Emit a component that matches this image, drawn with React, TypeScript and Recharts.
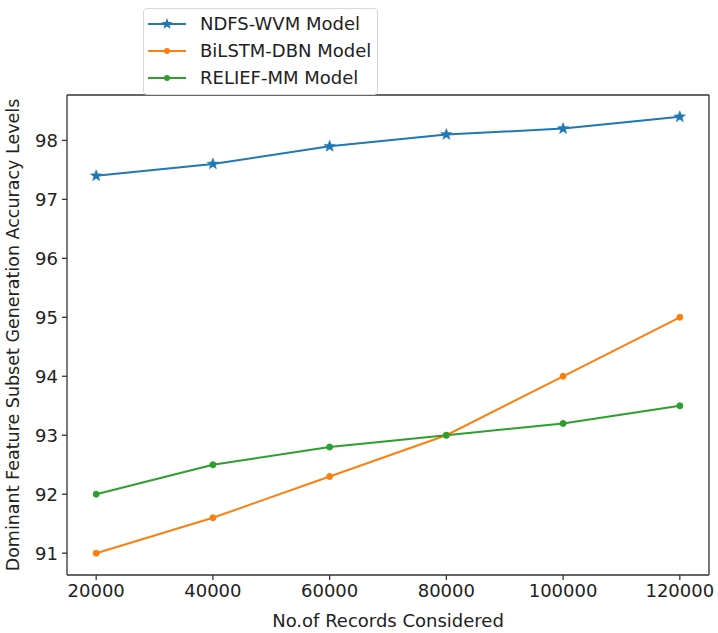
import React from 'react'
import { LineChart, Line, XAxis, YAxis, ReferenceLine } from 'recharts'

const records = [20000, 40000, 60000, 80000, 100000, 120000]
const ndfsWvm = [97.4, 97.6, 97.9, 98.1, 98.2, 98.4]
const bilstmDbn = [91.0, 91.6, 92.3, 93.0, 94.0, 95.0]
const reliefMm = [92.0, 92.5, 92.8, 93.0, 93.2, 93.5]
const yTicks = [91, 92, 93, 94, 95, 96, 97, 98]
const xTicks = [20000, 40000, 60000, 80000, 100000, 120000]

const seriesNames = ['NDFS-WVM Model', 'BiLSTM-DBN Model', 'RELIEF-MM Model']
const seriesKeys = ['ndfs', 'bilstm', 'relief']
const colors = ['#1f77b4', '#ff7f0e', '#2ca02c']

const X_DOMAIN: [number, number] = [15000, 125000]
const Y_DOMAIN: [number, number] = [90.63, 98.77]

const data = records.map((r, i) => ({
  records: r,
  ndfs: ndfsWvm[i],
  bilstm: bilstmDbn[i],
  relief: reliefMm[i],
}))

const FONT = '"DejaVu Sans", sans-serif'
const AXIS = '#333'

function starPath(cx: number, cy: number, r: number) {
  const pts: string[] = []
  for (let i = 0; i < 10; i++) {
    const rad = i % 2 === 0 ? r : r * 0.42
    const a = -Math.PI / 2 + (i * Math.PI) / 5
    pts.push(`${cx + rad * Math.cos(a)},${cy + rad * Math.sin(a)}`)
  }
  return 'M' + pts.join('L') + 'Z'
}

const StarDot = (props: any) => {
  const { cx, cy, key } = props
  if (cx == null || cy == null) return null
  return <path key={key} d={starPath(cx, cy, 6)} fill={colors[0]} stroke={colors[0]} strokeWidth={0.5} />
}

const makeCircle = (color: string) => (props: any) => {
  const { cx, cy, key } = props
  if (cx == null || cy == null) return null
  return <circle key={key} cx={cx} cy={cy} r={3} fill={color} stroke={color} />
}

function LegendBox() {
  return (
    <div
      style={{
        position: 'absolute',
        left: 143,
        top: 8,
        width: 235,
        height: 87,
        background: 'rgba(255,255,255,0.92)',
        border: '1px solid #d8d8d8',
        borderRadius: 4,
        boxSizing: 'border-box',
      }}
    >
      <svg width={235} height={87} style={{ position: 'absolute', left: -1, top: -1, overflow: 'visible' }}>
        {seriesNames.map((name, i) => {
          const y = 16 + i * 27
          return (
            <g key={name}>
              <line x1={5} x2={43} y1={y} y2={y} stroke={colors[i]} strokeWidth={2} />
              {i === 0 ? (
                <path d={starPath(24, y, 6)} fill={colors[i]} />
              ) : (
                <circle cx={24} cy={y} r={3} fill={colors[i]} />
              )}
              <text x={57} y={y} dy="0.36em" fontSize={18} fill="#222" fontFamily={FONT}>
                {name}
              </text>
            </g>
          )
        })}
      </svg>
    </div>
  )
}

export default function App() {
  const tickStyle = { fontSize: 18, fill: '#222', fontFamily: FONT }
  return (
    <div style={{ position: 'absolute', left: 0, top: 0, width: 718, height: 633, background: '#fff' }}>
      <LineChart
        width={718}
        height={633}
        data={data}
        margin={{ top: 95, right: 9, left: 7, bottom: 28 }}
      >
        <XAxis
          dataKey="records"
          type="number"
          domain={X_DOMAIN}
          ticks={xTicks}
          allowDataOverflow
          height={30}
          tick={tickStyle}
          tickSize={5}
          tickMargin={4}
          stroke={AXIS}
          strokeWidth={1.3}
          label={{ value: 'No.of Records Considered', position: 'insideBottom', offset: -22, style: { fontSize: 18, fill: '#222', fontFamily: FONT } }}
        />
        <YAxis
          type="number"
          domain={Y_DOMAIN}
          ticks={yTicks}
          allowDataOverflow
          width={60}
          tick={tickStyle}
          tickSize={5}
          tickMargin={4}
          stroke={AXIS}
          strokeWidth={1.3}
          label={{
            value: 'Dominant Feature Subset Generation Accuracy Levels',
            angle: -90,
            position: 'insideLeft',
            offset: 6,
            style: { textAnchor: 'middle', fontSize: 17.5, fill: '#222', fontFamily: FONT },
          }}
        />
        <ReferenceLine y={Y_DOMAIN[1]} stroke={AXIS} strokeWidth={1.3} />
        <ReferenceLine x={X_DOMAIN[1]} stroke={AXIS} strokeWidth={1.3} />
        <Line
          dataKey={seriesKeys[0]}
          stroke={colors[0]}
          strokeWidth={2}
          dot={StarDot}
          activeDot={false}
          isAnimationActive={false}
        />
        <Line
          dataKey={seriesKeys[1]}
          stroke={colors[1]}
          strokeWidth={2}
          dot={makeCircle(colors[1])}
          activeDot={false}
          isAnimationActive={false}
        />
        <Line
          dataKey={seriesKeys[2]}
          stroke={colors[2]}
          strokeWidth={2}
          dot={makeCircle(colors[2])}
          activeDot={false}
          isAnimationActive={false}
        />
      </LineChart>
      <LegendBox />
    </div>
  )
}
